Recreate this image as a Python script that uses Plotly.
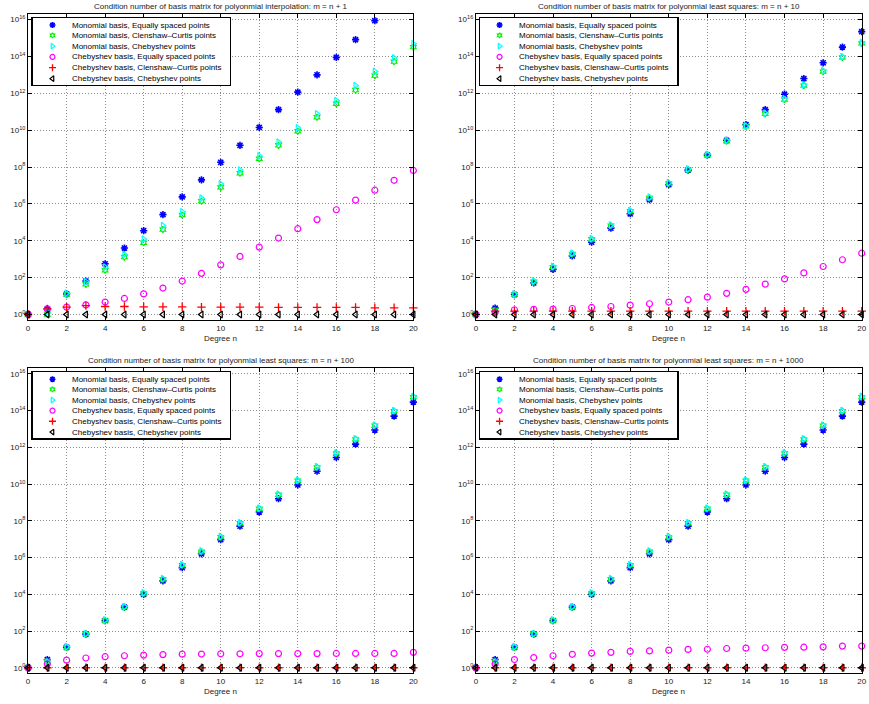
import plotly.graph_objects as go

# ---------------- data ----------------
degree_n = list(range(21))

series_names = [
    "Monomial basis, Equally spaced points",
    "Monomial basis, Clenshaw\u2013Curtis points",
    "Monomial basis, Chebyshev points",
    "Chebyshev basis, Equally spaced points",
    "Chebyshev basis, Clenshaw\u2013Curtis points",
    "Chebyshev basis, Chebyshev points",
]

panel_titles = [
    "Condition number of basis matrix for polyonmial interpolation: m = n + 1",
    "Condition number of basis matrix for polyonmial least squares: m = n + 10",
    "Condition number of basis matrix for polyonmial least squares: m = n + 100",
    "Condition number of basis matrix for polyonmial least squares: m = n + 1000",
]

x_ticks = list(range(0, 21, 2))
y_tick_vals = [1e0, 1e2, 1e4, 1e6, 1e8, 1e10, 1e12, 1e14, 1e16]
y_tick_text = ["10<sup>0</sup>", "10<sup>2</sup>", "10<sup>4</sup>", "10<sup>6</sup>",
               "10<sup>8</sup>", "10<sup>10</sup>", "10<sup>12</sup>", "10<sup>14</sup>",
               "10<sup>16</sup>"]

# m = n + 1
p1_mono_equi = [1, 2.0, 13, 65, 560, 4.0e3, 3.5e4, 2.6e5, 2.4e6, 2.0e7, 1.8e8, 1.5e9, 1.4e10,
                1.3e11, 1.15e12, 1.0e13, 8.9e13, 8.1e14, 8.7e15, None, None]
p1_mono_cc = [1, 1, 12, 43, 2.5e2, 1.3e3, 7.8e3, 4.1e4, 2.5e5, 1.4e6, 7.9e6, 4.6e7, 2.8e8,
              1.5e9, 8.7e9, 5.0e10, 2.7e11, 1.5e12, 9.1e12, 5.2e13, 3.2e14]
p1_mono_cheb = [1, 1.4, 14, 59, 3.7e2, 1.8e3, 1.2e4, 6.5e4, 3.7e5, 2.0e6, 1.2e7, 6.8e7, 4.0e8,
                2.2e9, 1.3e10, 7.6e10, 4.0e11, 2.6e12, 1.5e13, 8.3e13, 4.8e14]
p1_cheb_equi = [1, 2.0, 2.5, 3.3, 4.7, 7.4, 13, 27, 65, 1.7e2, 4.9e2, 1.4e3, 4.5e3, 1.4e4,
                4.5e4, 1.4e5, 4.8e5, 1.6e6, 5.5e6, 1.9e7, 6.5e7]
p1_cheb_cc = [1, 2.0, 2.5, 3.0, 2.7, 2.7, 2.6, 2.6, 2.6, 2.5, 2.5, 2.5, 2.5, 2.4, 2.4, 2.4,
              2.4, 2.4, 2.3, 2.3, 2.3]
p1_cheb_cheb = [1, 1, 1, 1, 1, 1, 1, 1, 1, 1, 1, 1, 1, 1, 1, 1, 1, 1, 1, 1, 1]

# m = n + 10
p2_mono_equi = [1, 2.2, 12, 51, 2.8e2, 1.5e3, 8.3e3, 4.8e4, 2.9e5, 1.7e6, 1.1e7, 6.8e7, 4.4e8,
                2.8e9, 2.0e10, 1.3e11, 8.9e11, 6.3e12, 4.5e13, 3.2e14, 2.2e15]
p2_mono_cc = [1, 1.7, 12, 59, 3.7e2, 1.9e3, 1.2e4, 6.5e4, 4.0e5, 2.1e6, 1.3e7, 7.1e7, 4.4e8,
              2.5e9, 1.6e10, 7.6e10, 4.6e11, 2.6e12, 1.5e13, 8.9e13, 5.1e14]
p2_mono_cheb = [1, 1.5, 13, 65, 4.0e2, 2.1e3, 1.3e4, 7.1e4, 4.4e5, 2.3e6, 1.4e7, 7.8e7, 4.8e8,
                2.8e9, 1.7e10, 8.3e10, 5.0e11, 2.9e12, 1.7e13, 9.8e13, 5.6e14]
p2_cheb_equi = [1, 1.3, 1.8, 1.9, 1.95, 2.1, 2.4, 2.7, 3.2, 3.8, 4.7, 6.3, 8.7, 14, 23, 44, 85,
                1.8e2, 4.0e2, 9.3e2, 2.1e3]
p2_cheb_cc = [1, 1.5, 1.5, 1.5, 1.5, 1.5, 1.5, 1.5, 1.5, 1.5, 1.5, 1.5, 1.5, 1.5, 1.5, 1.5,
              1.5, 1.5, 1.5, 1.5, 1.5]
p2_cheb_cheb = [1, 1, 1, 1, 1, 1, 1, 1, 1, 1, 1, 1, 1, 1, 1, 1, 1, 1, 1, 1, 1]

# m = n + 100
p3_mono_equi = [1, 2.8, 13, 68, 3.7e2, 2.0e3, 1.0e4, 5.4e4, 2.8e5, 1.6e6, 9.3e6, 5.1e7, 3.0e8,
                1.6e9, 8.9e9, 5.0e10, 2.8e11, 1.5e12, 8.7e12, 5.0e13, 2.9e14]
p3_mono_cc = [1, 2.2, 13, 68, 3.7e2, 2.0e3, 1.1e4, 6.6e4, 3.8e5, 2.1e6, 1.3e7, 7.4e7, 4.5e8,
              2.6e9, 1.5e10, 8.1e10, 4.7e11, 2.7e12, 1.5e13, 9.3e13, 5.4e14]
p3_mono_cheb = [1, 2.0, 14, 72, 4.0e2, 2.1e3, 1.2e4, 7.1e4, 4.1e5, 2.3e6, 1.4e7, 7.9e7, 4.8e8,
                2.8e9, 1.6e10, 8.7e10, 5.0e11, 2.9e12, 1.6e13, 1.0e14, 5.8e14]
p3_cheb_equi = [1, 1.6, 2.6, 3.4, 4.0, 4.5, 4.9, 5.2, 5.5, 5.6, 5.75, 5.75, 5.9, 5.9, 5.9, 5.9,
                6.0, 6.0, 6.0, 6.0, 6.9]
p3_cheb_cc = [1, 1, 1, 1, 1, 1, 1, 1, 1, 1, 1, 1, 1, 1, 1, 1, 1, 1, 1, 1, 1]
p3_cheb_cheb = [1, 1, 1, 1, 1, 1, 1, 1, 1, 1, 1, 1, 1, 1, 1, 1, 1, 1, 1, 1, 1]

# m = n + 1000
p4_mono_equi = [1, 2.8, 13, 68, 3.7e2, 2.0e3, 1.0e4, 5.4e4, 2.8e5, 1.6e6, 9.3e6, 5.1e7, 3.0e8,
                1.6e9, 8.9e9, 5.0e10, 2.8e11, 1.5e12, 8.7e12, 5.0e13, 2.9e14]
p4_mono_cc = [1, 2.2, 13, 68, 3.7e2, 2.0e3, 1.1e4, 6.6e4, 3.8e5, 2.1e6, 1.3e7, 7.4e7, 4.5e8,
              2.6e9, 1.5e10, 8.1e10, 4.7e11, 2.7e12, 1.5e13, 9.3e13, 5.4e14]
p4_mono_cheb = [1, 2.0, 14, 72, 4.0e2, 2.1e3, 1.2e4, 7.1e4, 4.1e5, 2.3e6, 1.4e7, 7.9e7, 4.8e8,
                2.8e9, 1.6e10, 8.7e10, 5.0e11, 2.9e12, 1.6e13, 1.0e14, 5.8e14]
p4_cheb_equi = [1, 1.6, 2.8, 3.6, 4.5, 5.4, 6.3, 6.9, 7.8, 8.3, 9.1, 10, 10.2, 11.2, 11.7, 12.3,
                12.9, 13.2, 13.8, 15.1, 15.1]
p4_cheb_cc = [1, 1, 1, 1, 1, 1, 1, 1, 1, 1, 1, 1, 1, 1, 1, 1, 1, 1, 1, 1, 1]
p4_cheb_cheb = [1, 1, 1, 1, 1, 1, 1, 1, 1, 1, 1, 1, 1, 1, 1, 1, 1, 1, 1, 1, 1]

panels = [
    [p1_mono_equi, p1_mono_cc, p1_mono_cheb, p1_cheb_equi, p1_cheb_cc, p1_cheb_cheb],
    [p2_mono_equi, p2_mono_cc, p2_mono_cheb, p2_cheb_equi, p2_cheb_cc, p2_cheb_cheb],
    [p3_mono_equi, p3_mono_cc, p3_mono_cheb, p3_cheb_equi, p3_cheb_cc, p3_cheb_cheb],
    [p4_mono_equi, p4_mono_cc, p4_mono_cheb, p4_cheb_equi, p4_cheb_cc, p4_cheb_cheb],
]

# ---------------- styles ----------------
W, H = 869, 704
FONT = "Liberation Sans, Arial, Helvetica, sans-serif"
styles = [
    dict(symbol="asterisk-open", color="#0000ff", lw=1.6, size=6),
    dict(symbol="hexagram-open", color="#00ee00", lw=1.1, size=5),
    dict(symbol="triangle-right-open", color="#00ffff", lw=1.2, size=6),
    dict(symbol="circle-open", color="#ff00ff", lw=1.2, size=6),
    dict(symbol="cross-thin-open", color="#ff0000", lw=1.3, size=6),
    dict(symbol="triangle-left-open", color="#000000", lw=1.2, size=6),
]
GRID = dict(showgrid=True, gridcolor="#8c8c8c", griddash="1px,2px", gridwidth=1)


def px_x(p):
    return p / W


def px_y(p):
    return 1 - p / H


# plot boxes in pixels: (left, right, top, bottom)
boxes = [
    (26.3, 414.7, 14.0, 320.0),
    (477.7, 866.7, 14.0, 320.0),
    (26.3, 414.7, 368.3, 673.3),
    (477.7, 866.7, 368.3, 673.3),
]
# legend boxes in pixels
leg_boxes = [
    (31.0, 230.0, 18.0, 85.0),
    (481.7, 680.7, 18.0, 85.0),
    (31.0, 230.0, 372.3, 438.3),
    (481.7, 680.7, 372.3, 438.3),
]

fig = go.Figure()
layout = dict(
    width=W, height=H,
    margin=dict(l=0, r=0, t=0, b=0),
    paper_bgcolor="white", plot_bgcolor="white",
    showlegend=False,
    font=dict(family=FONT, size=8, color="black"),
    annotations=[],
)

for i, (series, box) in enumerate(zip(panels, boxes)):
    k = i + 1
    sfx = "" if k == 1 else str(k)
    for vals, name, st in zip(series, series_names, styles):
        fig.add_trace(go.Scatter(
            x=degree_n, y=vals, mode="markers", name=name,
            xaxis="x" + sfx, yaxis="y" + sfx, cliponaxis=False,
            marker=dict(symbol=st["symbol"], size=st["size"], color=st["color"],
                        line=dict(color=st["color"], width=st["lw"])),
        ))
    l, r, t, b = box
    layout["xaxis" + sfx] = dict(
        domain=[px_x(l), px_x(r)], anchor="y" + sfx, range=[0, 20],
        tickmode="array", tickvals=x_ticks, ticks="inside", ticklen=4,
        tickcolor="black", showline=True, linecolor="black", linewidth=1,
        mirror="ticks", zeroline=False, tickfont=dict(size=8, color="#222"),
        ticklabeloverflow="allow", fixedrange=True, **GRID,
    )
    layout["yaxis" + sfx] = dict(
        domain=[px_y(b), px_y(t)], anchor="x" + sfx, type="log",
        range=[-0.301, 16.301], tickmode="array", tickvals=y_tick_vals,
        ticktext=y_tick_text, ticks="inside", ticklen=4, tickcolor="black",
        showline=True, linecolor="black", linewidth=1, mirror="ticks",
        zeroline=False, tickfont=dict(size=8, color="#222"),
        ticklabeloverflow="allow", fixedrange=True, **GRID,
    )
    # panel title
    layout["annotations"].append(dict(
        text=panel_titles[i], xref="paper", yref="paper",
        x=px_x((l + r) / 2), y=px_y(t - 8), xanchor="center", yanchor="middle",
        showarrow=False, font=dict(size=8, color="#222", family=FONT),
    ))
    # x label
    layout["annotations"].append(dict(
        text="Degree n", xref="paper", yref="paper",
        x=px_x((l + r) / 2), y=px_y(b + 18), xanchor="center", yanchor="middle",
        showarrow=False, font=dict(size=8, color="#222", family=FONT),
    ))

# ---------------- legends drawn as small overlay subplots ----------------
row_y = [0.895, 0.74, 0.58, 0.42, 0.258, 0.095]
for i, lb in enumerate(leg_boxes):
    k = 5 + i
    sfx = str(k)
    l, r, t, b = lb
    layout["xaxis" + sfx] = dict(
        domain=[px_x(l), px_x(r)], anchor="y" + sfx, range=[0, 1],
        showline=True, linecolor="black", linewidth=1.3, mirror=True,
        showgrid=False, zeroline=False, showticklabels=False, ticks="",
        fixedrange=True,
    )
    layout["yaxis" + sfx] = dict(
        domain=[px_y(b), px_y(t)], anchor="x" + sfx, range=[0, 1],
        showline=True, linecolor="black", linewidth=1.3, mirror=True,
        showgrid=False, zeroline=False, showticklabels=False, ticks="",
        fixedrange=True,
    )
    for j, (name, st) in enumerate(zip(series_names, styles)):
        fig.add_trace(go.Scatter(
            x=[0.10], y=[row_y[j]], mode="markers", xaxis="x" + sfx, yaxis="y" + sfx,
            hoverinfo="skip", cliponaxis=False,
            marker=dict(symbol=st["symbol"], size=st["size"] - 1, color=st["color"],
                        line=dict(color=st["color"], width=st["lw"])),
        ))
        layout["annotations"].append(dict(
            text=name, xref="x" + sfx, yref="y" + sfx, x=0.187, y=row_y[j],
            xanchor="left", yanchor="middle", showarrow=False,
            font=dict(size=8, color="black", family=FONT),
        ))

fig.update_layout(**layout)
fig.write_html(
    "out.html",
    config={"displayModeBar": False, "staticPlot": True},
    post_script="document.body.style.margin='0';document.body.style.padding='0';"
                "document.body.style.overflow='hidden';",
)
